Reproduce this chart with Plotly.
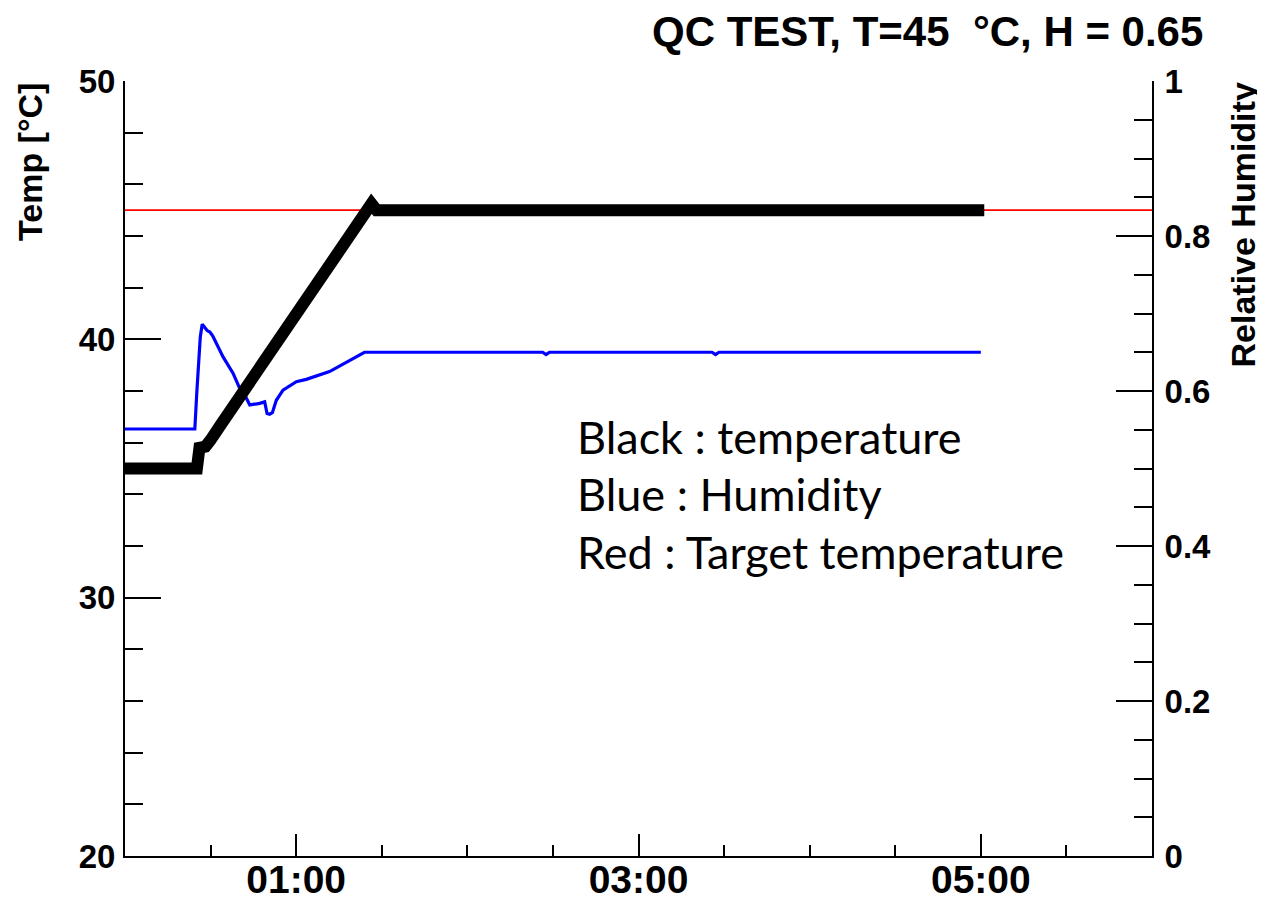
import plotly.graph_objects as go

# ---- data (time in hours since start) ----
temp_time = [0.0, 0.42, 0.435, 0.47, 0.50, 0.53, 0.56, 1.44, 1.47, 5.02]
temp_vals = [35.0, 35.0, 35.8, 35.85, 36.1, 36.5, 36.7, 45.25, 45.0, 45.0]

hum_time = [0.0, 0.408, 0.42, 0.44, 0.451, 0.46, 0.48, 0.496, 0.513, 0.573, 0.631,
            0.671, 0.704, 0.729, 0.76, 0.787, 0.816, 0.83, 0.845, 0.861, 0.884,
            0.923, 1.001, 1.059, 1.195, 1.399, 2.44, 2.46, 2.48, 3.43, 3.45, 3.47, 5.0]
hum_vals = [0.551, 0.551, 0.60, 0.67, 0.686, 0.683, 0.678, 0.676, 0.671, 0.644, 0.623,
            0.603, 0.593, 0.582, 0.583, 0.584, 0.586, 0.571, 0.570, 0.572, 0.588,
            0.601, 0.612, 0.615, 0.625, 0.650, 0.650, 0.647, 0.650, 0.650, 0.647, 0.650, 0.650]

target_time = [0.0, 6.0]
target_vals = [45.0, 45.0]

x_tickvals = [1, 3, 5]
x_ticktext = ["01:00", "03:00", "05:00"]
y_tickvals = [20, 30, 40, 50]
y2_tickvals = [0, 0.2, 0.4, 0.6, 0.8, 1]
y2_ticktext = ["0", "0.2", "0.4", "0.6", "0.8", "1"]

title_text = "QC TEST, T=45  °C, H = 0.65"
legend_lines = ["Black : temperature", "Blue : Humidity", "Red : Target temperature"]

BOLD = "Liberation Sans, Arial, Helvetica, sans-serif"

# page body has an 8px margin: shrink the figure so the plot area lands where the reference has it
OFF = 8
PL, PR, PT, PB = 125, 1152, 81, 856   # plot area in page pixels
W, H = 1265 - OFF, 904 - OFF
PW, PH = PR - PL, PB - PT

def px(x):
    return (x - PL) / PW

def py(y):
    return (PB - y) / PH

fig = go.Figure()
fig.add_trace(go.Scatter(x=target_time, y=target_vals, mode="lines",
                         line=dict(color="#ff0000", width=1.6), yaxis="y", showlegend=False))
fig.add_trace(go.Scatter(x=hum_time, y=hum_vals, mode="lines",
                         line=dict(color="#0000ff", width=3.2), yaxis="y2", showlegend=False))
fig.add_trace(go.Scatter(x=temp_time, y=temp_vals, mode="lines",
                         line=dict(color="#000000", width=12), yaxis="y3", showlegend=False))

tickfont_y = dict(family=BOLD, size=33, color="black", weight="bold")

fig.update_layout(
    width=W, height=H,
    margin=dict(l=PL - OFF, r=W - (PR - OFF), t=PT - OFF, b=H - (PB - OFF), autoexpand=False),
    paper_bgcolor="white", plot_bgcolor="white",
    xaxis=dict(range=[0, 6], tickvals=x_tickvals, ticktext=x_ticktext, automargin=False,
               ticks="inside", ticklen=22, tickwidth=2, tickcolor="black",
               minor=dict(dtick=0.5, tick0=0, ticks="inside", ticklen=11, tickwidth=2, tickcolor="black"),
               showline=True, linecolor="black", linewidth=2, mirror=False,
               showgrid=False, zeroline=False, ticklabelstandoff=-12,
               tickfont=dict(family=BOLD, size=39, color="black", weight="bold")),
    yaxis=dict(range=[20, 50], tickvals=y_tickvals, automargin=False,
               ticks="inside", ticklen=36, tickwidth=2, tickcolor="black",
               minor=dict(dtick=2, tick0=20, ticks="inside", ticklen=18, tickwidth=2, tickcolor="black"),
               showline=True, linecolor="black", linewidth=2,
               showgrid=False, zeroline=False, tickfont=tickfont_y, ticklabelstandoff=1),
    yaxis2=dict(range=[0, 1], tickvals=y2_tickvals, ticktext=y2_ticktext, automargin=False,
                overlaying="y", side="right", anchor="x",
                ticks="inside", ticklen=36, tickwidth=2, tickcolor="black",
                minor=dict(dtick=0.05, tick0=0, ticks="inside", ticklen=18, tickwidth=2, tickcolor="black"),
                showline=True, linecolor="black", linewidth=2,
                showgrid=False, zeroline=False, tickfont=tickfont_y, ticklabelstandoff=4),
    yaxis3=dict(range=[20, 50], overlaying="y", visible=False, anchor="x", automargin=False),
)

# title
fig.add_annotation(text=title_text, xref="paper", yref="paper",
                   x=px(1205), y=py(32),
                   xanchor="right", yanchor="middle", showarrow=False,
                   font=dict(family=BOLD, size=42, color="black", weight="bold"))

# axis titles (ROOT style: aligned to top end of axis)
fig.add_annotation(text="Temp [°C]", xref="paper", yref="paper",
                   x=px(30), y=1.0, xanchor="center", yanchor="top",
                   textangle=-90, showarrow=False,
                   font=dict(family=BOLD, size=34, color="black", weight="bold"))
fig.add_annotation(text="Relative Humidity", xref="paper", yref="paper",
                   x=px(1242), y=1.0, xanchor="center", yanchor="top",
                   textangle=-90, showarrow=False,
                   font=dict(family=BOLD, size=34, color="black", weight="bold"))

# legend text lines
centers = [437, 494, 552]
for line, yc in zip(legend_lines, centers):
    fig.add_annotation(text=line, xref="paper", yref="paper",
                       x=px(575), y=py(yc),
                       xanchor="left", yanchor="middle", showarrow=False,
                       font=dict(family="Lato, Carlito, sans-serif", size=45, color="black"))

fig.write_html("out.html")
